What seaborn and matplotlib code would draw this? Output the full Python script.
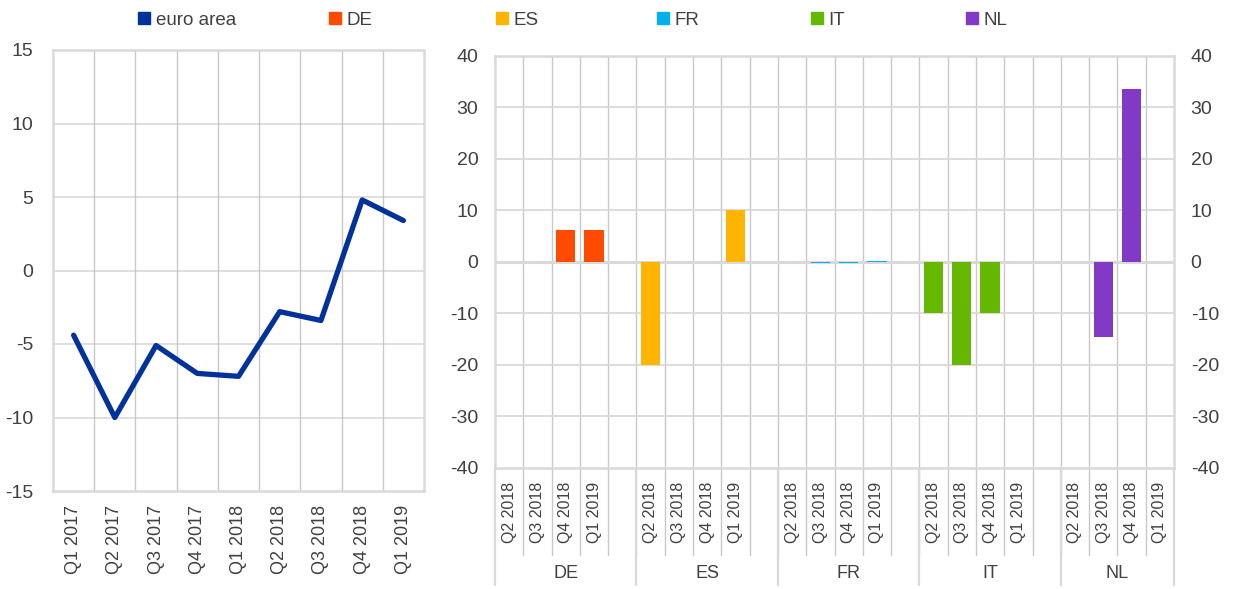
import numpy as np
import pandas as pd
import matplotlib
matplotlib.use("Agg")
import matplotlib.pyplot as plt
from matplotlib.lines import Line2D
import seaborn as sns

# ---------------- data ----------------
ea_quarters = ["Q1 2017", "Q2 2017", "Q3 2017", "Q4 2017", "Q1 2018",
               "Q2 2018", "Q3 2018", "Q4 2018", "Q1 2019"]
ea_values = [-4.4, -10.0, -5.1, -7.0, -7.2, -2.8, -3.4, 4.8, 3.4]

countries = ["DE", "ES", "FR", "IT", "NL"]
quarters = ["Q2 2018", "Q3 2018", "Q4 2018", "Q1 2019"]
de_values = [0.0, 0.0, 6.3, 6.3]
es_values = [-20.0, 0.0, 0.0, 10.0]
fr_values = [0.0, -0.2, -0.2, 0.1]
it_values = [-10.0, -20.0, -10.0, 0.0]
nl_values = [0.0, -14.5, 33.5, 0.0]
country_values = {"DE": de_values, "ES": es_values, "FR": fr_values,
                  "IT": it_values, "NL": nl_values}

legend_labels = ["euro area", "DE", "ES", "FR", "IT", "NL"]
colors = {"euro area": "#003299", "DE": "#FF4B00", "ES": "#FFB400",
          "FR": "#00B1EA", "IT": "#65B800", "NL": "#8139C6"}

# ---------------- style ----------------
sns.set_theme(style="white")
plt.rcParams["font.family"] = ["Liberation Sans", "DejaVu Sans"]
text_col = "#404040"
grid_col = "#D9D9D9"
vgrid_col = "#C8C8C8"

fig = plt.figure(figsize=(12.4, 5.89), dpi=100)
W, H = 1240, 589

def ax_rect(x0, y0, x1, y1):
    return [x0 / W, 1 - y1 / H, (x1 - x0) / W, (y1 - y0) / H]

# ---------------- left panel ----------------
axL = fig.add_axes(ax_rect(53, 50, 424, 491))
df_ea = pd.DataFrame({"quarter": ea_quarters, "value": ea_values})
df_ea["pos"] = np.arange(len(ea_quarters))
sns.lineplot(data=df_ea, x="pos", y="value", ax=axL, color=colors["euro area"],
             linewidth=3.8, solid_capstyle="round", solid_joinstyle="round")
axL.set_xlim(-0.5, len(ea_quarters) - 0.5)
axL.set_ylim(-15, 15)
axL.set_yticks([-15, -10, -5, 0, 5, 10, 15])
axL.set_yticklabels(["-15", "-10", "-5", "0", "5", "10", "15"])
axL.set_xticks(np.arange(len(ea_quarters)))
axL.set_xticklabels(ea_quarters, rotation=90)
axL.set_xlabel("")
axL.set_ylabel("")
for y in [-10, -5, 0, 5, 10]:
    axL.axhline(y, color=grid_col, lw=1.2, zorder=0)
for x in np.arange(0.5, len(ea_quarters) - 0.5, 1):
    axL.axvline(x, color=vgrid_col, lw=1.0, zorder=0)
for s in axL.spines.values():
    s.set_color(grid_col)
    s.set_linewidth(1.8)
axL.tick_params(axis="y", labelsize=14, colors=text_col, length=0, pad=14)
axL.tick_params(axis="x", labelsize=13, colors=text_col, length=0, pad=10)

# ---------------- right panel ----------------
axR = fig.add_axes(ax_rect(495, 56, 1174, 468))
slots, slot_labels, slot_country, slot_vals = [], [], [], []
for ci, c in enumerate(countries):
    for qi, q in enumerate(quarters):
        slots.append(f"{c}|{q}")
        slot_labels.append(q)
        slot_country.append(c)
        slot_vals.append(country_values[c][qi])
    if ci < len(countries) - 1:
        slots.append(f"{c}|blank")
        slot_labels.append("")
        slot_country.append(None)
        slot_vals.append(np.nan)

df_c = pd.DataFrame({"slot": slots, "country": slot_country, "value": slot_vals})
df_c = df_c.dropna(subset=["country"])
sns.barplot(data=df_c, x="slot", y="value", hue="country", order=slots,
            hue_order=countries, palette=[colors[c] for c in countries],
            dodge=False, width=0.68, saturation=1, linewidth=0,
            ax=axR, legend=False, zorder=3)
n = len(slots)
axR.set_xlim(-0.5, n - 0.5)
axR.set_ylim(-40, 40)
axR.set_yticks(np.arange(-40, 41, 10))
axR.set_yticklabels([str(v) for v in range(-40, 41, 10)])
axR.set_xticks(np.arange(n))
axR.set_xticklabels(slot_labels, rotation=90)
axR.set_xlabel("")
axR.set_ylabel("")
for y in range(-30, 40, 10):
    axR.axhline(y, color=grid_col, lw=1.3 if y else 2.2, zorder=1)
for x in np.arange(0.5, n - 0.5, 1):
    axR.axvline(x, color=vgrid_col, lw=1.0, zorder=0)
for s in axR.spines.values():
    s.set_color(grid_col)
    s.set_linewidth(1.8)
axR.tick_params(axis="y", labelsize=14, colors=text_col, length=0, pad=12,
                left=True, right=True, labelleft=True, labelright=True)
axR.tick_params(axis="x", labelsize=11.5, colors=text_col, length=0, pad=10)

# extended separator lines below the right panel
trans = axR.get_xaxis_transform()
bottom_minor = -(555 - 468) / (468 - 56)
bottom_major = -(585 - 468) / (468 - 56)
for x in np.arange(0.5, n - 0.5, 1):
    axR.plot([x, x], [0, bottom_minor], transform=trans, color=vgrid_col,
             lw=1.0, clip_on=False, zorder=0)
bounds = [-0.5] + [i + 0.5 for i, lab in enumerate(slot_labels) if lab == ""] + [n - 0.5]
for b in bounds:
    axR.plot([b, b], [0, bottom_major], transform=trans, color=grid_col,
             lw=1.6, clip_on=False, zorder=0)
label_y = -(573 - 468) / (468 - 56)
for gi, c in enumerate(countries):
    x0, x1 = bounds[gi], bounds[gi + 1]
    axR.text((x0 + x1) / 2, label_y, c, transform=trans, ha="center",
             va="center", fontsize=13, color=text_col)

# ---------------- legend ----------------
leg_x = [147, 338, 505, 666, 820, 975]
for lab, x in zip(legend_labels, leg_x):
    h = Line2D([], [], marker="s", linestyle="none", markersize=8,
               color=colors[lab])
    lg = fig.legend(handles=[h], labels=[lab], loc="center left",
                    bbox_to_anchor=((x - 12) / W, 1 - 20 / H), frameon=False,
                    fontsize=13.5, handletextpad=0.1, handlelength=1.0,
                    borderpad=0, borderaxespad=0)
    for t in lg.get_texts():
        t.set_color(text_col)

fig.savefig("out.png", dpi=100)
